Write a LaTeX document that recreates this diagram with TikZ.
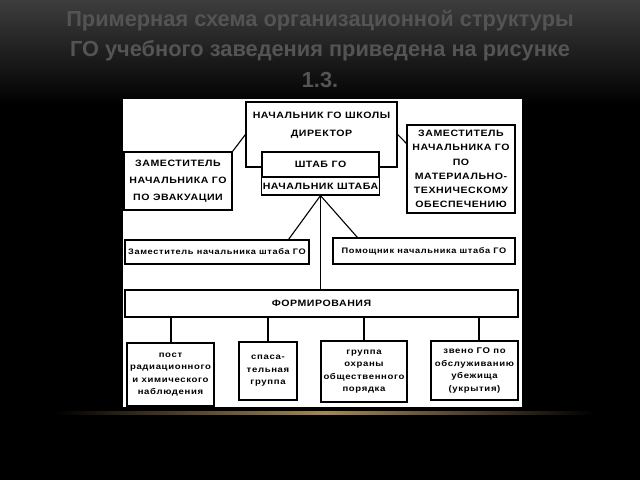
\documentclass[tikz,border=0pt]{standalone}
\usepackage{fontspec}
\setmainfont{Liberation Sans}
\newfontfamily\boxfont[FakeStretch=1.15,LetterSpace=6]{Liberation Sans}
\newfontfamily\smfont[FakeStretch=1.15,LetterSpace=8]{Liberation Sans}
\newfontfamily\titlefont{Liberation Sans}
\begin{document}
\begin{tikzpicture}[x=1pt,y=-1pt,
  bx/.style={draw=black,line width=1.2pt,fill=white,inner sep=1pt,align=center,
    font=\boxfont\bfseries\fontsize{9.2}{17}\selectfont},
  sm/.style={bx,font=\smfont\bfseries\fontsize{8.3}{12.5}\selectfont},
  ln/.style={line width=1.1pt,black}]
\useasboundingbox (0,0) rectangle (640,480);
\fill[black] (0,0) rectangle (640,480);
\shade[top color=black!76,bottom color=black] (0,0) rectangle (640,105);
\shade[left color=black,right color=black,middle color={rgb,255:red,165;green,135;blue,85}] (55,411.5) rectangle (595,414.5);
% title
\node[font=\titlefont\bfseries\fontsize{21.8}{30.5}\selectfont,text=black!67,align=center] (title) at (320,49)
  {Примерная схема организационной структуры\\ГО учебного заведения приведена на рисунке\\1.3.};
% panel
\fill[white] (123,99) rectangle (522,407);
% boxes
\node[bx,minimum width=151pt,minimum height=65pt,text depth=21pt,font=\boxfont\bfseries\fontsize{9.2}{18}\selectfont] (dir) at (321.5,134.5)
  {НАЧАЛЬНИК ГО ШКОЛЫ\\ДИРЕКТОР};
\node[bx,minimum width=117pt,minimum height=25pt] (shtab) at (320.5,164.5) {ШТАБ ГО};
\node[bx,minimum width=117pt,minimum height=18pt] (nach) at (320.5,186) {НАЧАЛЬНИК ШТАБА};
\node[bx,minimum width=108pt,minimum height=58pt] (evac) at (178,181)
  {ЗАМЕСТИТЕЛЬ\\НАЧАЛЬНИКА ГО\\ПО ЭВАКУАЦИИ};
\node[bx,minimum width=108pt,minimum height=88pt,font=\boxfont\bfseries\fontsize{9.2}{14.2}\selectfont] (mat) at (461,169)
  {ЗАМЕСТИТЕЛЬ\\НАЧАЛЬНИКА ГО\\ПО\\МАТЕРИАЛЬНО-\\ТЕХНИЧЕСКОМУ\\ОБЕСПЕЧЕНИЮ};
\node[sm,minimum width=184pt,minimum height=24pt,font=\smfont\bfseries\fontsize{8}{12}\selectfont] (dep) at (217,252) {Заместитель начальника штаба ГО};
\node[sm,minimum width=182pt,minimum height=26pt,font=\smfont\bfseries\fontsize{8}{12}\selectfont] (asst) at (424,251) {Помощник начальника штаба ГО};
\node[bx,minimum width=393pt,minimum height=27pt] (form) at (321.5,303.5) {ФОРМИРОВАНИЯ};
\node[sm,minimum width=87pt,minimum height=63pt] (b1) at (170.5,374.5)
  {пост\\радиационного\\и химического\\наблюдения};
\node[sm,minimum width=58pt,minimum height=58pt] (b2) at (268,371) {спаса-\\тельная\\группа};
\node[sm,minimum width=86pt,minimum height=61pt] (b3) at (364,371.5)
  {группа\\охраны\\общественного\\порядка};
\node[sm,minimum width=87pt,minimum height=59pt] (b4) at (474.5,370.5)
  {звено ГО по\\обслуживанию\\убежища\\(укрытия)};
% connectors
\draw[ln] (dir.west) -- (evac.north east);
\draw[ln] (dir.east) -- ([yshift=-19pt]mat.north west);
\draw[ln] (nach.south) -- (nach.south |- form.north);
\draw[ln] (nach.south) -- ([xshift=-21pt]dep.north east);
\draw[ln] (nach.south) -- ([xshift=25pt]asst.north west);
\draw[ln] ([xshift=0.5pt]b1.north) -- ([xshift=0.5pt]b1.north |- form.south);
\draw[ln] (b2.north) -- (b2.north |- form.south);
\draw[ln] (b3.north) -- (b3.north |- form.south);
\draw[ln] ([xshift=4.5pt]b4.north) -- ([xshift=4.5pt]b4.north |- form.south);
\end{tikzpicture}
\end{document}
